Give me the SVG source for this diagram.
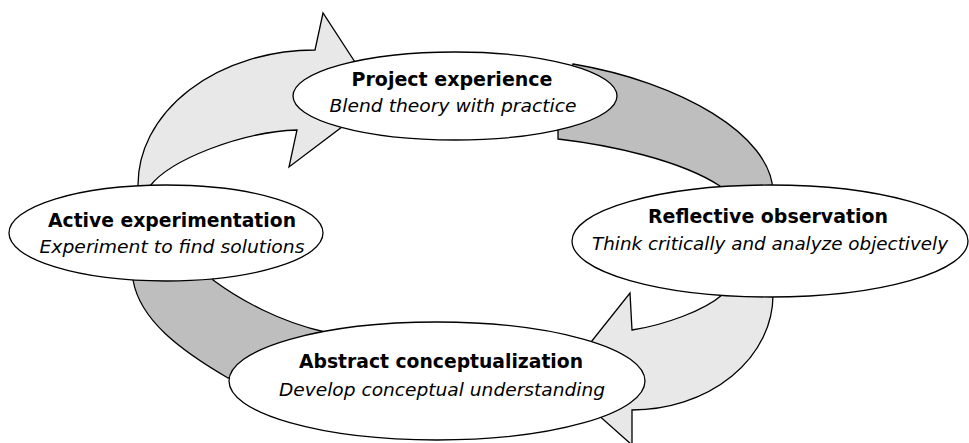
<svg xmlns="http://www.w3.org/2000/svg" width="969" height="443" viewBox="0 0 969 443">
<style>
.light{fill:#e8e8e8;stroke:#000;stroke-width:1.3;stroke-linejoin:miter}
.dark{fill:#bebebe;stroke:#000;stroke-width:1.3;stroke-linejoin:miter}
.node ellipse{fill:#fff;stroke:#000;stroke-width:1.3}
.t{font-family:"DejaVu Sans","Verdana",sans-serif;font-size:19px;font-weight:bold;fill:#000;text-anchor:middle}
.s{font-family:"DejaVu Sans","Verdana",sans-serif;font-size:18.5px;font-style:italic;fill:#000;text-anchor:middle}
</style>
<rect width="969" height="443" fill="#fff"/>
<g id="connectors">
<path id="arrow-active-to-project" class="light" d="M138 186 A177 135 0 0 1 315 50 L323 13 L379 99 L289 167 L297 130 C240 132 170 160 150 186 L150 192 L138 192 Z"/>
<path id="arrow-project-to-reflective" class="dark" d="M573 64 C680 82 772 135 773 192 L720 192 L720 186 C680 160 610 145 558 139 L558 129 Z"/>
<path id="arrow-reflective-to-abstract" class="light" d="M722 290 L722 295 C705 310 665 325 632 330 L630 293 L560 381 L632 445 L632 410 A141 115 0 0 0 773 295 L773 290 Z"/>
<path id="arrow-abstract-to-active" class="dark" d="M133 275 L133 280 C140 320 180 350 228 378 L300 370 L325 332 C280 322 240 300 213 280 L213 275 Z"/>
</g>
<g id="node-project" class="node">
<ellipse cx="455" cy="96" rx="162" ry="44"/>
<text class="t" x="452" y="86" textLength="201" lengthAdjust="spacingAndGlyphs">Project experience</text>
<text class="s" x="453" y="112" textLength="247" lengthAdjust="spacingAndGlyphs">Blend theory with practice</text>
</g>
<g id="node-reflective" class="node">
<ellipse cx="770" cy="241" rx="198" ry="56"/>
<text class="t" x="768" y="223" textLength="240" lengthAdjust="spacingAndGlyphs">Reflective observation</text>
<text class="s" x="770" y="250" textLength="356" lengthAdjust="spacingAndGlyphs">Think critically and analyze objectively</text>
</g>
<g id="node-abstract" class="node">
<ellipse cx="437" cy="381" rx="208" ry="59"/>
<text class="t" x="441" y="368" textLength="284" lengthAdjust="spacingAndGlyphs">Abstract conceptualization</text>
<text class="s" x="442" y="396" textLength="326" lengthAdjust="spacingAndGlyphs">Develop conceptual understanding</text>
</g>
<g id="node-active" class="node">
<ellipse cx="166" cy="233" rx="157" ry="48"/>
<text class="t" x="172" y="227" textLength="248" lengthAdjust="spacingAndGlyphs">Active experimentation</text>
<text class="s" x="172" y="253" textLength="265" lengthAdjust="spacingAndGlyphs">Experiment to find solutions</text>
</g>
</svg>
